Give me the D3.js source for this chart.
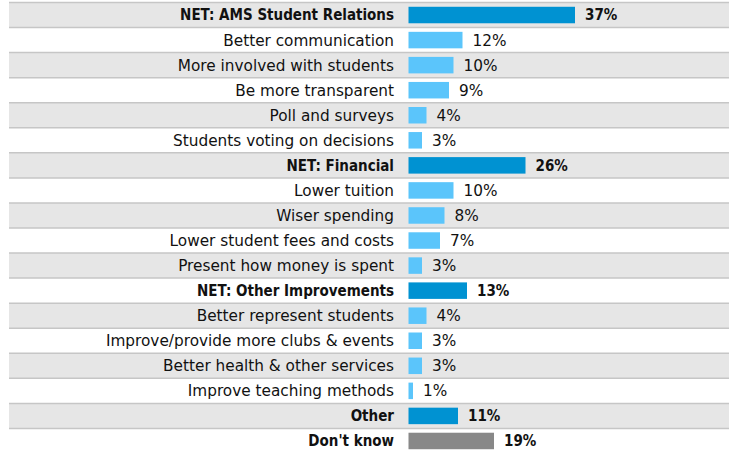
<!DOCTYPE html>
<html><head><meta charset="utf-8">
<script src="https://cdn.jsdelivr.net/npm/d3@7"></script>
<style>
html,body{margin:0;padding:0;background:#fff;}
svg{display:block;}
text{font-family:"DejaVu Sans",sans-serif;}
text.b{font-family:"DejaVu Sans Condensed","DejaVu Sans",sans-serif;}
</style></head>
<body>
<script>
const categories = [
  "NET: AMS Student Relations","Better communication","More involved with students","Be more transparent",
  "Poll and surveys","Students voting on decisions","NET: Financial","Lower tuition","Wiser spending",
  "Lower student fees and costs","Present how money is spent","NET: Other Improvements","Better represent students",
  "Improve/provide more clubs & events","Better health & other services","Improve teaching methods","Other","Don't know"
];
const values = [37,12,10,9,4,3,26,10,8,7,3,13,4,3,3,1,11,19];
const kinds = ["net","sub","sub","sub","sub","sub","net","sub","sub","sub","sub","net","sub","sub","sub","sub","net","dk"];

const W = 729, H = 456;
const svg = d3.select("body").append("svg").attr("width", W).attr("height", H);

const y = d3.scaleBand().domain(categories).range([2.5, 453.5]).paddingInner(0).paddingOuter(0);
const x = d3.scaleLinear().domain([0, 37]).range([408.5, 575]);
const colors = {net:"#0092d2", sub:"#5bc5fb", dk:"#888888"};

const rows = svg.append("g");
categories.forEach((c,i) => {
  if (i % 2 === 0) {
    rows.append("rect").attr("x", 9).attr("y", y(c)).attr("width", W-9).attr("height", y.bandwidth())
      .attr("fill", "#e6e6e6");
    rows.append("line").attr("x1", 9).attr("x2", W).attr("y1", y(c)).attr("y2", y(c))
      .attr("stroke", "#c6c6c6").attr("stroke-width", 1.5);
    rows.append("line").attr("x1", 9).attr("x2", W).attr("y1", y(c)+y.bandwidth()).attr("y2", y(c)+y.bandwidth())
      .attr("stroke", "#c6c6c6").attr("stroke-width", 1.5);
  }
});

const bh = 16.5;
svg.append("g").selectAll("rect").data(categories).join("rect")
  .attr("x", x(0))
  .attr("y", d => y(d) + (y.bandwidth()-bh)/2)
  .attr("width", (d,i) => x(values[i]) - x(0))
  .attr("height", bh)
  .attr("fill", (d,i) => colors[kinds[i]]);

svg.append("g").selectAll("text").data(categories).join("text")
  .attr("class", (d,i) => kinds[i] === "sub" ? "n" : "b")
  .attr("x", 394)
  .attr("y", d => y(d) + y.bandwidth()/2)
  .attr("dy", "0.36em")
  .attr("text-anchor", "end")
  .attr("font-size", (d,i) => kinds[i] === "sub" ? 15.3 : 15)
  .attr("font-weight", (d,i) => kinds[i] === "sub" ? "normal" : "bold")
  .attr("fill", "#111")
  .text(d => d);

svg.append("g").selectAll("text").data(categories).join("text")
  .attr("class", (d,i) => kinds[i] === "sub" ? "n" : "b")
  .attr("x", (d,i) => x(values[i]) + 10)
  .attr("y", d => y(d) + y.bandwidth()/2)
  .attr("dy", "0.36em")
  .attr("font-size", (d,i) => kinds[i] === "sub" ? 15.3 : 15)
  .attr("font-weight", (d,i) => kinds[i] === "sub" ? "normal" : "bold")
  .attr("fill", "#111")
  .text((d,i) => values[i] + "%");
</script>
</body></html>
